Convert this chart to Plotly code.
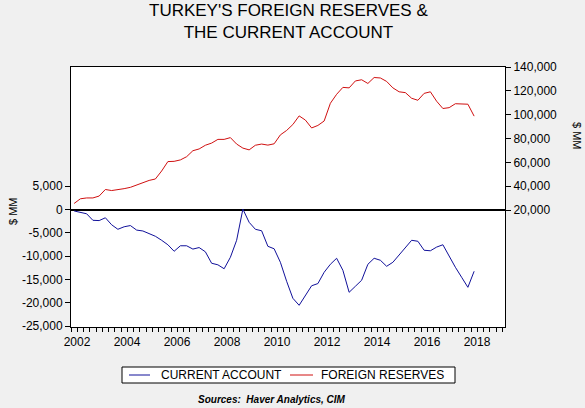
import plotly.graph_objects as go

# quarterly observations 2002Q1 .. 2018Q1
quarters = [f"{y}Q{q}" for y in range(2002, 2019) for q in range(1, 5)][:65]

# current account, $ MM (left axis)
current_account = [
    -300, -640, -900, -2300, -2360, -1760, -3260, -4230,
    -3690, -3430, -4400, -4590, -5190, -5730, -6590, -7550,
    -8950, -7770, -7770, -8480, -8150, -9060, -11520, -11850,
    -12700, -10240, -6590, 100, -2730, -4230, -4550, -7880,
    -8410, -11310, -15390, -19040, -20540, -18390, -16350, -15880,
    -13460, -11740, -10450, -13030, -17750, -16460, -15170, -11740,
    -10450, -10880, -12170, -11310, -9810, -8090, -6590, -6800,
    -8730, -8840, -8050, -7550, -10020, -12380, -14530, -16680,
    -13240,
]

# foreign reserves, $ MM (right axis)
foreign_reserves = [
    25600, 29500, 30200, 30200, 31800, 37300, 36400, 37000,
    38000, 39100, 41200, 42800, 44900, 46100, 52800, 60700,
    60900, 62100, 64800, 69800, 71300, 74400, 76200, 79300,
    79300, 80800, 75400, 72000, 70500, 74400, 75400, 74500,
    75600, 83100, 86800, 91800, 99000, 95500, 88900, 91000,
    94700, 109600, 117100, 122900, 122500, 128300, 129300, 126200,
    131200, 130800, 127900, 122500, 119200, 118500, 113800, 112100,
    117900, 119200, 111300, 105200, 105900, 109200, 109000, 108800,
    98800,
]

left_ticks = [5000, 0, -5000, -10000, -15000, -20000, -25000]
right_ticks = [20000, 40000, 60000, 80000, 100000, 120000, 140000]
year_ticks = list(range(2002, 2019, 2))

BLUE = "#10109a"
RED = "#d01010"
FONT = "Liberation Sans, Arial, sans-serif"

W, H = 585, 408
# plot area in pixels (for placing the hand drawn legend / notes)
PL, PR, PT, PB = 71, 505, 67, 327


def px(xp):
    return (xp - PL) / (PR - PL)


def py(yp):
    return (PB - yp) / (PB - PT)


xvals = [int(s[:4]) + (int(s[5]) - 1) * 0.25 + 0.125 for s in quarters]

fig = go.Figure()
fig.add_trace(go.Scatter(
    x=xvals, y=current_account, mode="lines", name="CURRENT ACCOUNT",
    line=dict(color=BLUE, width=1), yaxis="y",
))
fig.add_trace(go.Scatter(
    x=xvals, y=foreign_reserves, mode="lines", name="FOREIGN RESERVES",
    line=dict(color=RED, width=1), yaxis="y2",
))

fig.update_layout(
    width=W, height=H,
    margin=dict(l=PL, r=W - PR, t=PT, b=H - PB, autoexpand=False),
    paper_bgcolor="#f0f0f0",
    plot_bgcolor="white",
    showlegend=False,
    font=dict(family=FONT, size=12, color="black"),
    xaxis=dict(
        range=[2002, 2019.36], showgrid=False, zeroline=False,
        showline=True, linecolor="black", linewidth=1, mirror=True,
        tickvals=year_ticks, ticktext=[str(y) for y in year_ticks],
        ticks="outside", ticklen=4, tickcolor="black",
        ticklabelshift=6,
        minor=dict(dtick=0.25, tick0=2002, ticks="outside", ticklen=4,
                   tickcolor="black", showgrid=False),
        tickfont=dict(size=12),
    ),
    yaxis=dict(
        range=[-25200, 30600], showgrid=False,
        zeroline=True, zerolinecolor="black", zerolinewidth=1.5,
        showline=True, linecolor="black", linewidth=1, mirror=True,
        tickvals=left_ticks, ticktext=[f"{v:,}" for v in left_ticks],
        ticks="outside", ticklen=5, tickcolor="black",
        tickfont=dict(size=12),
    ),
    yaxis2=dict(
        range=[-78000, 140000], overlaying="y", side="right",
        showgrid=False, zeroline=False, showline=False,
        tickvals=right_ticks, ticktext=[f"{v:,}" for v in right_ticks],
        ticks="outside", ticklen=5, tickcolor="black",
        tickfont=dict(size=12),
    ),
)

ann = []
# title
ann.append(dict(
    text="TURKEY'S FOREIGN RESERVES &<br>THE CURRENT ACCOUNT",
    x=px(288), y=py(21.5), xref="paper", yref="paper",
    xanchor="center", yanchor="middle", showarrow=False,
    font=dict(size=17, family=FONT, color="black"),
))
# axis titles
ann.append(dict(text="$ MM", x=px(13), y=py(211), xref="paper", yref="paper",
                xanchor="center", yanchor="middle",
                textangle=-90, showarrow=False, font=dict(size=11)))
ann.append(dict(text="$ MM", x=px(577), y=py(136), xref="paper", yref="paper",
                xanchor="center", yanchor="middle",
                textangle=90, showarrow=False, font=dict(size=11)))
# legend
ann.append(dict(text="CURRENT ACCOUNT", x=px(159), y=py(375), xref="paper", yref="paper",
                xanchor="left", yanchor="middle", showarrow=False, font=dict(size=12)))
ann.append(dict(text="FOREIGN RESERVES", x=px(319), y=py(375), xref="paper", yref="paper",
                xanchor="left", yanchor="middle", showarrow=False, font=dict(size=12)))
# source
ann.append(dict(text="<b><i>Sources:  Haver Analytics, CIM</i></b>",
                x=px(272), y=py(399), xref="paper", yref="paper",
                xanchor="center", yanchor="middle",
                showarrow=False, font=dict(size=10)))
fig.update_layout(annotations=ann)

fig.update_layout(shapes=[
    dict(type="rect", xref="paper", yref="paper",
         x0=px(122), x1=px(455), y0=py(367), y1=py(383),
         line=dict(color="black", width=1), fillcolor="white", layer="below"),
    dict(type="line", xref="paper", yref="paper",
         x0=px(129), x1=px(150), y0=py(375), y1=py(375),
         line=dict(color=BLUE, width=1)),
    dict(type="line", xref="paper", yref="paper",
         x0=px(290), x1=px(313), y0=py(375), y1=py(375),
         line=dict(color=RED, width=1)),
])

# drop the browser's default body margin so the chart sits at the window corner
fig.write_html("out.html", config={"displayModeBar": False},
               post_script="document.body.style.margin='0';")
